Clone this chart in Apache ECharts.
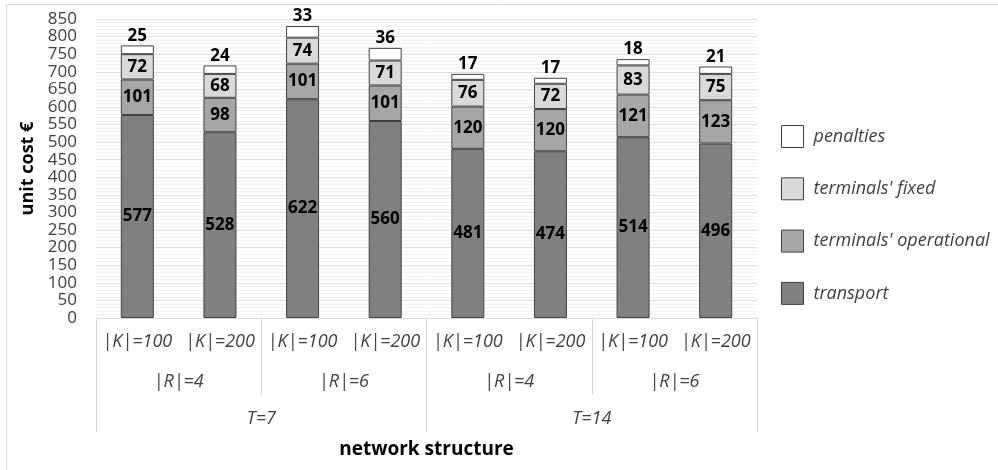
<!DOCTYPE html>
<html>
<head>
<meta charset="utf-8">
<script src="https://cdn.jsdelivr.net/npm/echarts@6/dist/echarts.min.js"></script>
<style>html,body{margin:0;padding:0;background:#fff}#c{width:998px;height:470px}</style>
</head>
<body>
<div id="c"></div>
<script>
const kLabels = ['|K|=100','|K|=200','|K|=100','|K|=200','|K|=100','|K|=200','|K|=100','|K|=200'];
const rLabels = ['|R|=4','|R|=6','|R|=4','|R|=6'];
const tLabels = ['T=7','T=14'];
const transport = [577, 528, 622, 560, 481, 474, 514, 496];
const operational = [101, 98, 101, 101, 120, 120, 121, 123];
const fixedCost = [72, 68, 74, 71, 76, 72, 83, 75];
const penalties = [25, 24, 33, 36, 17, 17, 18, 21];
const yTicks = {min: 0, max: 850, interval: 50};

const FONT = 'Open Sans';
const TXT = '#404040';
const chart = echarts.init(document.getElementById('c'));
function ser(name, data, color, pos) {
  return {
    name, type: 'bar', stack: 's', data, barWidth: 33,
    itemStyle: {color, borderColor: '#404040', borderWidth: 1},
    label: {show: true, position: pos, color: '#000', fontWeight: 'bold', fontSize: 17, fontFamily: FONT, distance: 1}
  };
}
chart.setOption({
  animation: false,
  textStyle: {fontFamily: FONT},
  graphic: [{type: 'rect', shape: {x: 6.5, y: 4.5, width: 1000, height: 500}, style: {fill: 'none', stroke: '#d9d9d9', lineWidth: 1}, silent: true}],
  grid: {left: 96, right: 241, top: 19, bottom: 152},
  legend: {
    orient: 'vertical', left: 776, top: 120, itemWidth: 22, itemHeight: 22, itemGap: 29.3, icon: 'rect',
    data: ['penalties', "terminals' fixed", "terminals' operational", 'transport'],
    textStyle: {fontSize: 18, lineHeight: 22, fontStyle: 'italic', color: TXT, fontFamily: FONT, padding: [0, 0, 0, 5]},
    itemStyle: {borderColor: '#404040', borderWidth: 1}
  },
  xAxis: [
    {type: 'category', data: kLabels, gridIndex: 0, position: 'bottom',
     axisLine: {lineStyle: {color: '#d9d9d9'}}, axisTick: {show: false},
     axisLabel: {fontSize: 18, fontStyle: 'italic', color: TXT, margin: 15, interval: 0, fontFamily: FONT},
     name: 'network structure', nameLocation: 'middle', nameGap: 122,
     nameTextStyle: {fontSize: 19, fontWeight: 'bold', color: '#000', fontFamily: FONT}},
    {type: 'category', data: rLabels, gridIndex: 0, position: 'bottom',
     axisLine: {show: false}, axisTick: {show: true, length: 77, lineStyle: {color: '#d9d9d9'}},
     axisLabel: {fontSize: 18, fontStyle: 'italic', color: TXT, margin: 55, interval: 0, fontFamily: FONT}},
    {type: 'category', data: tLabels, gridIndex: 0, position: 'bottom',
     axisLine: {show: false}, axisTick: {show: true, length: 114, lineStyle: {color: '#d9d9d9'}},
     axisLabel: {fontSize: 18, fontStyle: 'italic', color: TXT, margin: 92, interval: 0, fontFamily: FONT}}
  ],
  yAxis: {
    type: 'value', min: yTicks.min, max: yTicks.max, interval: yTicks.interval,
    axisLine: {show: false}, axisTick: {show: false},
    axisLabel: {fontSize: 17, color: TXT, margin: 19, fontFamily: FONT, showMinLabel: true, showMaxLabel: true, hideOverlap: false, lineHeight: 17},
    splitLine: {lineStyle: {color: '#dedede'}},
    minorTick: {show: false, splitNumber: 5},
    minorSplitLine: {show: true, lineStyle: {color: '#f2f2f2'}},
    name: 'unit cost €', nameLocation: 'middle', nameGap: 50,
    nameTextStyle: {fontSize: 18, fontWeight: 'bold', color: '#000', fontFamily: FONT}
  },
  series: [
    ser('transport', transport, '#808080', 'inside'),
    ser("terminals' operational", operational, '#a6a6a6', 'inside'),
    ser("terminals' fixed", fixedCost, '#d9d9d9', 'inside'),
    ser('penalties', penalties, '#ffffff', 'top')
  ]
});
</script>
</body>
</html>
